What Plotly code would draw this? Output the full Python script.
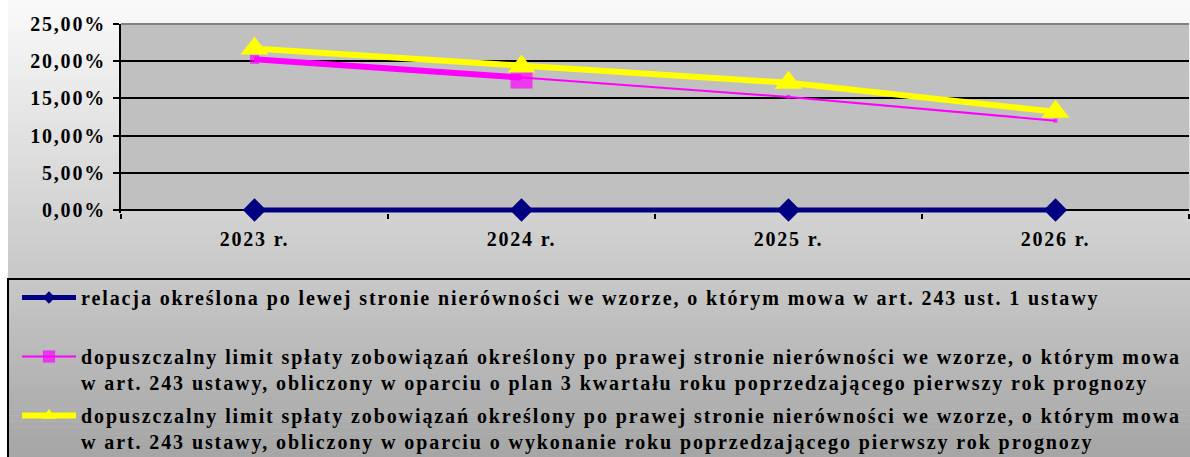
import plotly.graph_objects as go

# ---------------- data ----------------
categories = ["2023 r.", "2024 r.", "2025 r.", "2026 r."]
relacja = [0.0, 0.0, 0.0, 0.0]
limit_plan = [0.2025, 0.178, 0.152, 0.120]
limit_wykonanie = [0.217, 0.193, 0.171, 0.132]
y_ticks = [0.0, 0.05, 0.10, 0.15, 0.20, 0.25]
y_tick_labels = ["0,00%", "5,00%", "10,00%", "15,00%", "20,00%", "25,00%"]

name_relacja = ("relacja określona po lewej stronie nierówności we wzorze, o którym mowa w art. 243 ust. 1 ustawy<br> ")
name_plan = ("dopuszczalny limit spłaty zobowiązań określony po prawej stronie nierówności we wzorze, o którym mowa<br>"
             "w art. 243 ustawy, obliczony w oparciu o plan 3 kwartału roku poprzedzającego pierwszy rok prognozy")
name_wyk = ("dopuszczalny limit spłaty zobowiązań określony po prawej stronie nierówności we wzorze, o którym mowa<br>"
            "w art. 243 ustawy, obliczony w oparciu o wykonanie roku poprzedzającego pierwszy rok prognozy")

# ---------------- geometry ----------------
W, H = 1190, 457
PL, PR, PT, Y0 = 121, 1189, 24, 210  # plot area in px (Y0 = pixel row of 0 %)
SCALE = (Y0 - PT) / 0.25            # px per unit
EXTRA = 3                            # px below the zero line so the thick line is not clipped
PB = Y0 + EXTRA
YMIN = -EXTRA / SCALE


def px(x):
    return (x - PL) / (PR - PL)


def py(y):
    return (PB - y) / (PB - PT)


FONT = "Liberation Serif, Times New Roman, serif"

fig = go.Figure()

fig.add_trace(go.Scatter(
    x=categories, y=relacja, name=name_relacja, mode="lines+markers",
    line=dict(color="#000080", width=5),
    marker=dict(symbol="diamond", size=18, color="#000080", line=dict(width=0)),
    legendgroup="a", cliponaxis=False,
))
fig.add_trace(go.Scatter(
    x=categories, y=limit_plan, name=name_plan, mode="lines+markers",
    line=dict(color="#ff00ff", width=2),
    marker=dict(symbol="square", size=[9, 22, 4, 4], color="#ff00ff", line=dict(width=0)),
    legendgroup="b",
))
fig.add_trace(go.Scatter(
    x=categories[:2], y=limit_plan[:2], mode="lines", showlegend=False,
    line=dict(color="#ff00ff", width=6), hoverinfo="skip", legendgroup="b",
))
fig.add_trace(go.Scatter(
    x=categories, y=limit_wykonanie, name=name_wyk, mode="lines+markers",
    line=dict(color="#ffff00", width=6),
    marker=dict(symbol="triangle-up", size=24, color="#ffff00", line=dict(width=0)),
    legendgroup="c",
))

shapes = []
# outer background gradient (stripes)
n = 40
top_c, bot_c = 250, 200
for i in range(n):
    y0 = i * 278 / n
    y1 = (i + 1) * 278 / n + 0.6
    v = int(top_c + (bot_c - top_c) * i / (n - 1))
    shapes.append(dict(type="rect", xref="paper", yref="paper", layer="below",
                       x0=px(8), x1=px(W), y0=py(y1), y1=py(y0),
                       fillcolor=f"rgb({v},{v},{v})", line=dict(width=0)))
# plot area
shapes.append(dict(type="rect", xref="paper", yref="paper", layer="below",
                   x0=0, x1=1, y0=py(Y0), y1=1, fillcolor="#c0c0c0", line=dict(width=0)))
# top border of plot area
shapes.append(dict(type="line", xref="paper", yref="paper", layer="below",
                   x0=0, x1=1, y0=1, y1=1, line=dict(color="#808080", width=2)))
# legend gradient
LT, LB, LL = 278, 457, 7
n2 = 30
for i in range(n2):
    y0 = LT + i * (LB - LT) / n2
    y1 = LT + (i + 1) * (LB - LT) / n2 + 0.6
    v = int(200 + (166 - 200) * i / (n2 - 1))
    shapes.append(dict(type="rect", xref="paper", yref="paper", layer="below",
                       x0=px(LL), x1=px(W), y0=py(y1), y1=py(y0),
                       fillcolor=f"rgb({v},{v},{v})", line=dict(width=0)))
shapes.append(dict(type="rect", xref="paper", yref="paper", layer="above",
                   x0=px(LL + 1), x1=px(W + 2), y0=py(LB + 2), y1=py(LT + 1),
                   fillcolor="rgba(0,0,0,0)", line=dict(color="#000000", width=2)))

fig.update_layout(
    width=W, height=H,
    margin=dict(l=PL, r=W - PR, t=PT, b=H - PB, pad=0, autoexpand=False),
    paper_bgcolor="#ffffff",
    plot_bgcolor="rgba(0,0,0,0)",
    font=dict(family=FONT, size=20, color="#000000", weight="bold"),
    shapes=shapes,
    showlegend=True,
    legend=dict(
        x=px(17), y=py(278), xanchor="left", yanchor="top",
        bgcolor="rgba(0,0,0,0)", borderwidth=0,
        font=dict(family=FONT, size=20, color="#000000", weight="bold"),
        tracegroupgap=4, traceorder="grouped", valign="top",
        itemwidth=54,
    ),
    xaxis=dict(
        type="category", range=[-0.5, 3.5], showgrid=False,
        showline=False,
        ticks="outside", tickson="boundaries", ticklen=5, tickcolor="#000000", tickwidth=2,
        tickfont=dict(family=FONT, size=20, weight="bold"),
        ticklabelstandoff=12, zeroline=False, fixedrange=True,
    ),
    yaxis=dict(
        range=[YMIN, 0.25], tickvals=y_ticks, ticktext=y_tick_labels,
        showgrid=True, gridcolor="#000000", gridwidth=2,
        showline=True, linecolor="#000000", linewidth=2,
        ticks="outside", ticklen=6, tickcolor="#000000", tickwidth=2,
        tickfont=dict(family=FONT, size=20, weight="bold"),
        ticklabelstandoff=3, zeroline=False, fixedrange=True,
    ),
)

post = """
var s=document.createElement('style');
s.textContent='body{margin:0;padding:0;overflow:hidden} .legendtext{letter-spacing:1.9px} .xtick text,.ytick text{letter-spacing:1.8px}';
document.head.appendChild(s);
document.querySelectorAll('.legend, .legend [clip-path]').forEach(function(e){e.removeAttribute('clip-path');});
var sc=[0.6,1.25,0.8];
document.querySelectorAll('.legend .traces').forEach(function(t,i){
  t.querySelectorAll('.scatterpts').forEach(function(p){
    var tf=p.getAttribute('transform')||'';
    p.setAttribute('transform', tf+' scale('+sc[i]+')');
  });
});
"""
fig.write_html("out.html", post_script=post, config={"displayModeBar": False})
